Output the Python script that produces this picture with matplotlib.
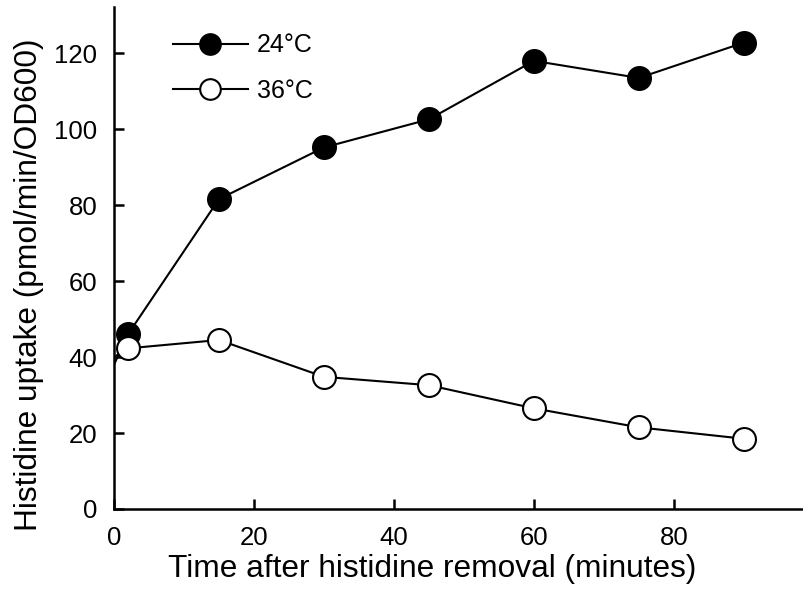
import matplotlib
matplotlib.use("Agg")
import matplotlib.pyplot as plt
from matplotlib.lines import Line2D

plt.rcParams['font.family'] = ['Liberation Sans', 'DejaVu Sans']

time_min = [0, 2, 15, 30, 45, 60, 75, 90]
uptake_24 = [38, 46, 81.6, 95.2, 102.6, 118.0, 113.5, 122.8]
uptake_36 = [40, 42.3, 44.5, 34.8, 32.6, 26.5, 21.5, 18.5]
series_labels = ['24°C', '36°C']
x_ticks = [0, 20, 40, 60, 80]
y_ticks = [0, 20, 40, 60, 80, 100, 120]
x_label = 'Time after histidine removal (minutes)'
y_label = 'Histidine uptake (pmol/min/OD600)'

fig = plt.figure(figsize=(8.04, 6.01), dpi=100)
ax = fig.add_axes([114/804, 92/601, 690/804, 501.7/601])

style = dict(markersize=16.5, markeredgewidth=1.5, linewidth=1.5, color='black')
faces = ['black', 'white']
handles = []
for vals, face, lab in zip([uptake_24, uptake_36], faces, series_labels):
    ax.plot(time_min, vals, marker='o', markerfacecolor=face,
            markeredgecolor='black', markevery=list(range(1, len(time_min))),
            **style)
    handles.append(Line2D([], [], marker='o', markerfacecolor=face,
                          markeredgecolor='black', label=lab, **style))

ax.set_xlim(0, 98.6)
ax.set_ylim(0, 132.1)
ax.set_xticks(x_ticks)
ax.set_yticks(y_ticks)
for s in ['top', 'right']:
    ax.spines[s].set_visible(False)
for s in ['left', 'bottom']:
    ax.spines[s].set_linewidth(1.8)
ax.tick_params(direction='in', length=7.5, width=1.8, labelsize=18.5, pad=12)

ax.set_xlabel(x_label, fontsize=22.8)
ax.set_ylabel(y_label, fontsize=22.8)
ax.xaxis.set_label_coords(0.461, -0.0897)
ax.yaxis.set_label_coords(-0.1014, 0.4465)

leg = ax.legend(handles=handles, loc='upper left',
                bbox_to_anchor=(59/690, (501.7 - 26)/501.7),
                frameon=False, fontsize=18, handlelength=3.0, handletextpad=0.35,
                labelspacing=0.85, borderpad=0, borderaxespad=0, numpoints=1,
                markerscale=0.9)

fig.savefig('out.png', dpi=100)
